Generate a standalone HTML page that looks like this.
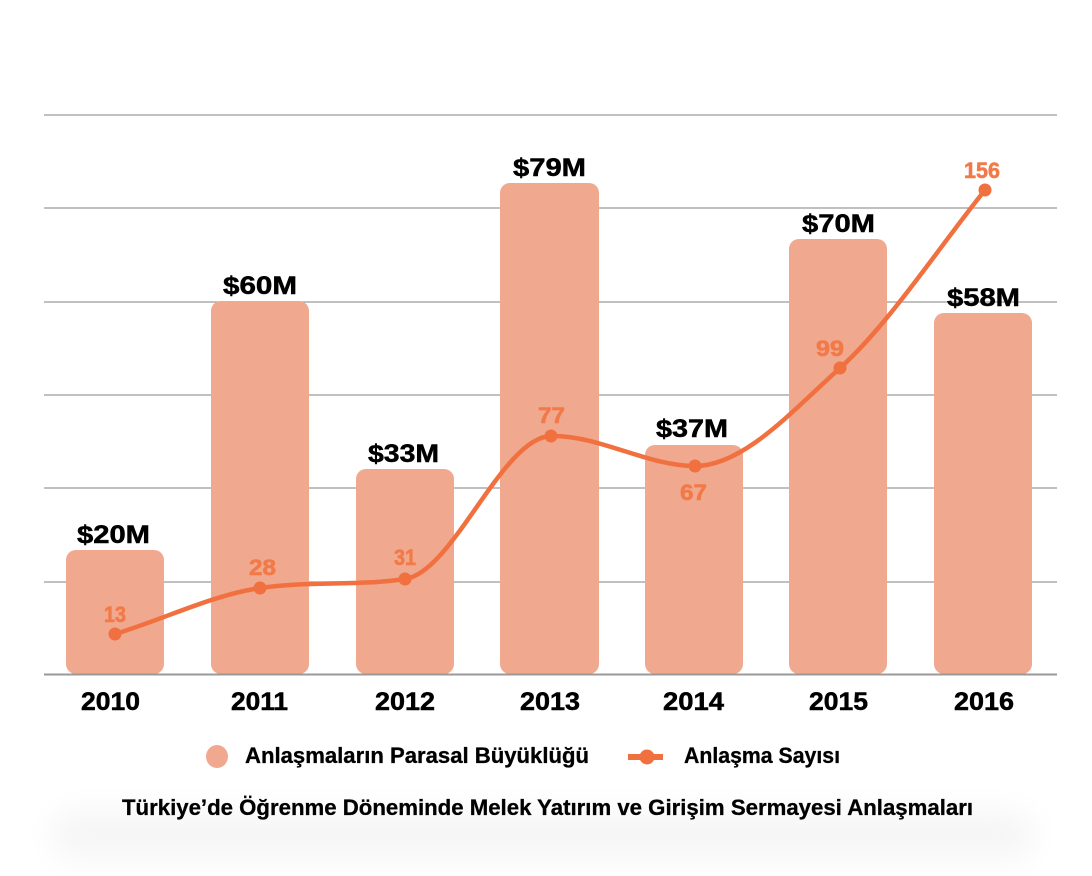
<!DOCTYPE html>
<html><head><meta charset="utf-8"><style>
html,body{margin:0;padding:0;background:#fff;}
svg{display:block;}
</style></head><body>
<svg width="1092" height="876" viewBox="0 0 1092 876" xmlns="http://www.w3.org/2000/svg">
<defs>
<filter id="blur" x="-20%" y="-50%" width="140%" height="200%"><feGaussianBlur stdDeviation="14"/></filter>
</defs>
<rect width="1092" height="876" fill="#fff"/>
<!-- faint background smudge -->
<rect x="50" y="810" width="985" height="50" rx="25" fill="#f6f6f6" filter="url(#blur)"/>

<!-- gridlines -->
<g stroke="#9a9a9a" stroke-width="1.2">
<line x1="44" y1="115" x2="1057" y2="115"/>
<line x1="44" y1="208" x2="1057" y2="208"/>
<line x1="44" y1="302" x2="1057" y2="302"/>
<line x1="44" y1="395" x2="1057" y2="395"/>
<line x1="44" y1="488" x2="1057" y2="488"/>
<line x1="44" y1="582" x2="1057" y2="582"/>
</g>

<!-- bars -->
<g fill="#f0a88e">
<rect x="66" y="550" width="98" height="124" rx="10"/>
<rect x="211" y="301" width="98" height="373" rx="10"/>
<rect x="356" y="469" width="98" height="205" rx="10"/>
<rect x="500" y="183" width="99" height="491" rx="10"/>
<rect x="645" y="445" width="98" height="229" rx="10"/>
<rect x="789" y="239" width="98" height="435" rx="10"/>
<rect x="934" y="313" width="98" height="361" rx="10"/>
</g>
<line x1="44" y1="674.5" x2="1057" y2="674.5" stroke="#999" stroke-width="2"/>

<!-- bar labels -->
<g font-family="'Liberation Sans', sans-serif" font-weight="bold" font-size="25" fill="#000" stroke="#000" stroke-width="0.5">
<text x="77" y="543" textLength="73" lengthAdjust="spacingAndGlyphs">$20M</text>
<text x="223" y="294" textLength="74" lengthAdjust="spacingAndGlyphs">$60M</text>
<text x="368" y="462" textLength="71" lengthAdjust="spacingAndGlyphs">$33M</text>
<text x="513" y="176" textLength="73" lengthAdjust="spacingAndGlyphs">$79M</text>
<text x="656" y="437" textLength="72" lengthAdjust="spacingAndGlyphs">$37M</text>
<text x="802" y="232" textLength="73" lengthAdjust="spacingAndGlyphs">$70M</text>
<text x="947" y="306" textLength="73" lengthAdjust="spacingAndGlyphs">$58M</text>
</g>

<!-- year labels -->
<g font-family="'Liberation Sans', sans-serif" font-weight="bold" font-size="25" fill="#000" stroke="#000" stroke-width="0.5">
<text x="81" y="710" textLength="59" lengthAdjust="spacingAndGlyphs">2010</text>
<text x="231" y="710" textLength="57" lengthAdjust="spacingAndGlyphs">2011</text>
<text x="375" y="710" textLength="60" lengthAdjust="spacingAndGlyphs">2012</text>
<text x="520" y="710" textLength="60" lengthAdjust="spacingAndGlyphs">2013</text>
<text x="663" y="710" textLength="61" lengthAdjust="spacingAndGlyphs">2014</text>
<text x="809" y="710" textLength="59" lengthAdjust="spacingAndGlyphs">2015</text>
<text x="954" y="710" textLength="60" lengthAdjust="spacingAndGlyphs">2016</text>
</g>

<!-- line series -->
<path d="M115,634 C163.3,619.5 211.7,595.2 260,588 C308.3,580.8 356.7,586.2 405,579 C453.7,571.7 502.3,437 551,436 C599,435 647,466 695,466 C743.3,466 791.7,411.5 840,368 C888.3,324.5 936.7,250.4 985,190"
 fill="none" stroke="#f1703f" stroke-width="4.5" stroke-linecap="round"/>
<g fill="#f1703f">
<circle cx="115" cy="634" r="6.5"/>
<circle cx="260" cy="588" r="6.5"/>
<circle cx="405" cy="579" r="6.5"/>
<circle cx="551" cy="436" r="6.5"/>
<circle cx="695" cy="466" r="6.5"/>
<circle cx="840" cy="368" r="6.5"/>
<circle cx="985" cy="190" r="6.5"/>
</g>

<!-- value labels -->
<g font-family="'Liberation Sans', sans-serif" font-weight="bold" font-size="22" fill="#f27a49" stroke="#f27a49" stroke-width="0.6">
<text x="104" y="622" textLength="22" lengthAdjust="spacingAndGlyphs">13</text>
<text x="249" y="575" textLength="27" lengthAdjust="spacingAndGlyphs">28</text>
<text x="394" y="565" textLength="22" lengthAdjust="spacingAndGlyphs">31</text>
<text x="538" y="423" textLength="27" lengthAdjust="spacingAndGlyphs">77</text>
<text x="680" y="500" textLength="27" lengthAdjust="spacingAndGlyphs">67</text>
<text x="816" y="356" textLength="28" lengthAdjust="spacingAndGlyphs">99</text>
<text x="964" y="178" textLength="36" lengthAdjust="spacingAndGlyphs">156</text>
</g>

<!-- legend -->
<ellipse cx="217" cy="756.5" rx="11" ry="11.5" fill="#f0a88e"/>
<line x1="628" y1="757" x2="663" y2="757" stroke="#f1703f" stroke-width="6"/>
<circle cx="647" cy="757" r="7.5" fill="#f1703f"/>
<g font-family="'Liberation Sans', sans-serif" font-weight="bold" font-size="22" fill="#000" stroke="#000" stroke-width="0.3">
<text x="245" y="763" textLength="344" lengthAdjust="spacingAndGlyphs">Anlaşmaların Parasal Büyüklüğü</text>
<text x="684" y="763" textLength="156" lengthAdjust="spacingAndGlyphs">Anlaşma Sayısı</text>
<text x="122" y="815" textLength="851" lengthAdjust="spacingAndGlyphs">Türkiye’de Öğrenme Döneminde Melek Yatırım ve Girişim Sermayesi Anlaşmaları</text>
</g>
</svg>
</body></html>
